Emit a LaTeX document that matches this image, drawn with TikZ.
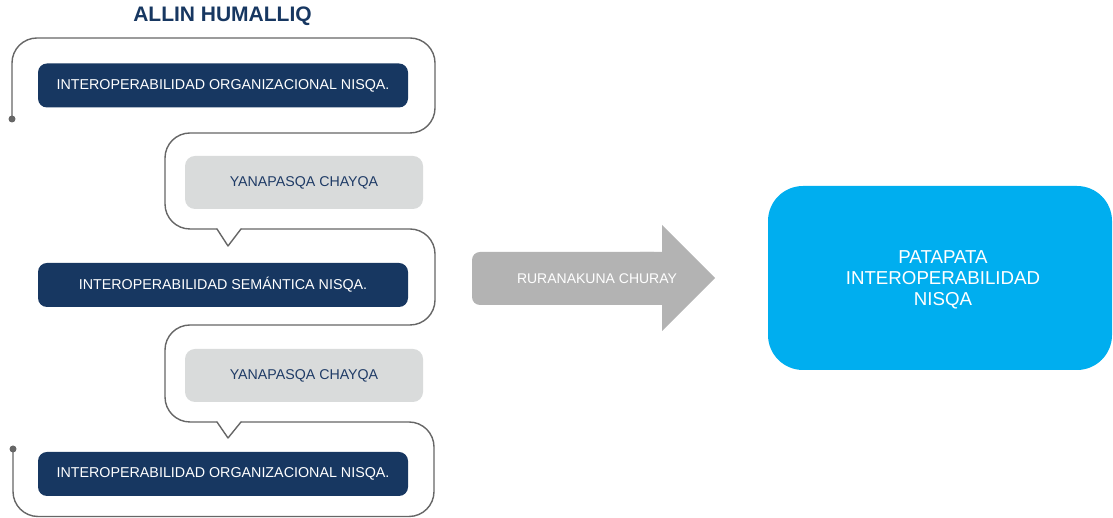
\documentclass[tikz,border=0pt]{standalone}
\usepackage{fontspec}
\setmainfont{Liberation Sans}
\definecolor{navy}{HTML}{173761}
\definecolor{navytext}{HTML}{1F3B66}
\definecolor{graybox}{HTML}{D9DBDB}
\definecolor{arrowgray}{HTML}{B3B3B3}
\definecolor{linegray}{HTML}{666666}
\definecolor{skyblue}{HTML}{00AEEF}
\begin{document}
\begin{tikzpicture}[x=1pt,y=1pt,
  darkbox/.style={fill=navy, rounded corners=9pt, minimum width=370pt, minimum height=44pt, inner sep=0pt, text=white, font=\fontsize{14.3}{16}\selectfont},
  greybox/.style={fill=graybox, rounded corners=10pt, minimum width=238pt, minimum height=53pt, inner sep=0pt, text=navytext, font=\fontsize{14.2}{16}\selectfont},
  outline/.style={draw=linegray, line width=1.4pt, line join=round, line cap=round},
  roundline/.style={outline, rounded corners=25pt}
]
\useasboundingbox (0,0) rectangle (1113,518);
% title
\node[text=navy, font=\bfseries\fontsize{21}{24}\selectfont] (title) at (222.5,502) {ALLIN HUMALLIQ};
% outline path
\draw[roundline] (12,399) -- (12,480) -- (435,480) -- (435,385) -- (165,385) -- (165,289) -- (217,289);
\draw[outline] (217,289) -- (228,272) -- (241,289);
\draw[roundline] (241,289) -- (435,289) -- (435,193) -- (165,193) -- (165,96) -- (217,96);
\draw[outline] (217,96) -- (228,80) -- (241,96);
\draw[roundline] (241,96) -- (434,96) -- (434,1.5) -- (13,1.5) -- (13,69);
\fill[linegray] (12,399) circle (3.5pt);
\fill[linegray] (13,69) circle (3.5pt);
% boxes
\node[darkbox] (org1) at (223,432.5) {INTEROPERABILIDAD ORGANIZACIONAL NISQA.};
\node[greybox] (yan1) at (304,335.5) {YANAPASQA CHAYQA};
\node[darkbox] (sem) at (223,233) {INTEROPERABILIDAD SEMÁNTICA NISQA.};
\node[greybox] (yan2) at (304,142.5) {YANAPASQA CHAYQA};
\node[darkbox] (org2) at (223,44) {INTEROPERABILIDAD ORGANIZACIONAL NISQA.};
% arrow
\node[fill=arrowgray, rounded corners=8pt, minimum width=190pt, minimum height=53pt, inner sep=0pt] (arrowbody) at (567,239.5) {};
\fill[arrowgray] (640,213) -- (662,213) -- (662,187) -- (715,240) -- (662,293) -- (662,266) -- (640,266) -- cycle;
\node[text=white, font=\fontsize{14}{16}\selectfont] (arrowtext) at (597,239) {RURANAKUNA CHURAY};
% result box
\node[fill=skyblue, rounded corners=35pt, minimum width=344pt, minimum height=184pt, inner sep=0pt] (result) at (940,240) {};
\node[text=white, align=center, font=\fontsize{18.7}{21}\selectfont] (resulttext) at (943,238) {PATAPATA\\INTEROPERABILIDAD\\NISQA};
\end{tikzpicture}
\end{document}
